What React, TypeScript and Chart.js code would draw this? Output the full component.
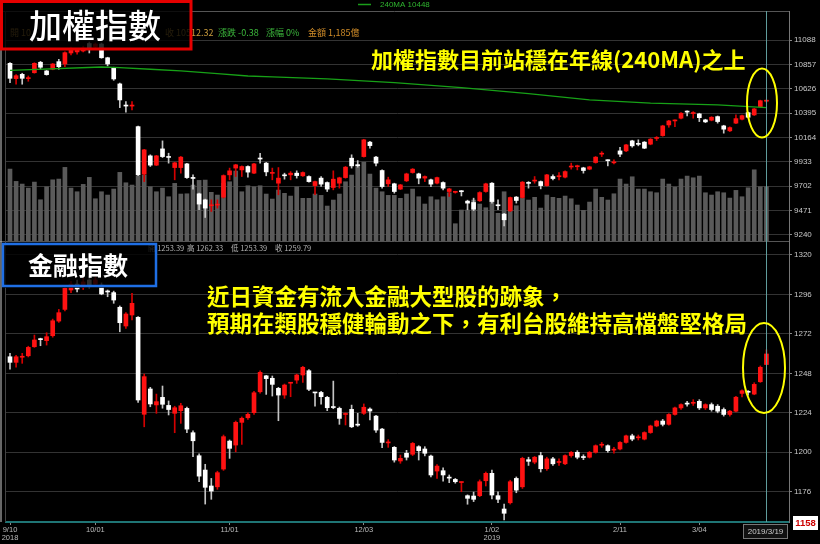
import React, { useEffect, useRef } from "react";
import { Chart, registerables } from "chart.js";
Chart.register(...registerables);

// ---------- 加權指數 (TAIEX) daily candles, 2018/9/10 .. 2019/3/19 ----------
const twOpen = [
  10867, 10722, 10763, 10722, 10778, 10877, 10795, 10811, 10883, 10861,
  10965, 10975, 10984, 11055, 11022, 11050, 10920, 10826, 10672, 10470,
  10462, 10267, 9817, 9990, 9902, 10056, 9980, 9879, 9879, 9914,
  9781, 9630, 9573, 9517, 9523, 9599, 9810, 9874, 9857, 9889,
  9826, 9965, 9921, 9824, 9731, 9805, 9810, 9826, 9801, 9794,
  9708, 9779, 9737, 9690, 9731, 9784, 9968, 9900, 9983, 10120,
  9978, 9851, 9725, 9725, 9675, 9753, 9832, 9819, 9779, 9763,
  9731, 9737, 9652, 9644, 9654, 9561, 9548, 9564, 9652, 9731,
  9521, 9438, 9469, 9599, 9595, 9733, 9751, 9746, 9708, 9794,
  9792, 9788, 9884, 9887, 9876, 9864, 9927, 10006, 9948, 9924,
  10037, 10037, 10132, 10103, 10120, 10101, 10155, 10182, 10283, 10321,
  10347, 10409, 10391, 10388, 10331, 10328, 10362, 10274, 10227, 10300,
  10337, 10400, 10378, 10457, 10508,
];
const twHigh = [
  10873, 10760, 10773, 10747, 10873, 10886, 10800, 10866, 10905, 10975,
  11022, 11010, 11030, 11069, 11060, 11060, 10925, 10830, 10680, 10504,
  10504, 10273, 10052, 10000, 9995, 10132, 10015, 9930, 9985, 9920,
  9810, 9638, 9580, 9573, 9573, 9810, 9874, 9910, 9895, 9895,
  9920, 10015, 9928, 9874, 9879, 9826, 9841, 9848, 9838, 9800,
  9752, 9794, 9743, 9848, 9788, 9890, 10000, 9945, 10147, 10128,
  9985, 9857, 9788, 9731, 9720, 9826, 9870, 9826, 9800, 9769,
  9790, 9743, 9683, 9655, 9662, 9570, 9589, 9650, 9731, 9737,
  9573, 9445, 9600, 9605, 9747, 9746, 9794, 9752, 9815, 9810,
  9832, 9848, 9921, 9902, 9882, 9892, 9984, 10030, 9952, 9952,
  10072, 10100, 10138, 10142, 10126, 10154, 10173, 10280, 10327, 10331,
  10400, 10416, 10409, 10394, 10337, 10362, 10368, 10280, 10265, 10378,
  10377, 10406, 10441, 10518, 10520,
];
const twLow = [
  10684, 10669, 10669, 10697, 10773, 10811, 10755, 10806, 10811, 10835,
  10946, 10955, 10975, 10965, 11012, 10915, 10842, 10706, 10447, 10404,
  10426, 9803, 9746, 9889, 9897, 9974, 9921, 9763, 9826, 9775,
  9675, 9479, 9406, 9463, 9495, 9590, 9763, 9794, 9794, 9788,
  9820, 9921, 9801, 9763, 9621, 9769, 9763, 9779, 9795, 9740,
  9621, 9700, 9652, 9668, 9684, 9778, 9874, 9883, 9978, 10063,
  9895, 9684, 9700, 9636, 9670, 9746, 9826, 9725, 9746, 9699,
  9725, 9668, 9605, 9636, 9610, 9479, 9471, 9558, 9645, 9542,
  9479, 9327, 9462, 9542, 9590, 9684, 9731, 9677, 9702, 9763,
  9763, 9782, 9864, 9857, 9826, 9858, 9921, 9983, 9895, 9914,
  9983, 10030, 10072, 10085, 10058, 10095, 10135, 10176, 10261, 10267,
  10340, 10368, 10347, 10315, 10305, 10322, 10300, 10205, 10220, 10294,
  10331, 10350, 10372, 10450, 10500,
];
const twClose = [
  10725, 10750, 10725, 10728, 10867, 10830, 10760, 10861, 10835, 10968,
  10994, 10998, 11012, 11012, 11050, 10920, 10861, 10719, 10520, 10462,
  10468, 9810, 10047, 9902, 9990, 9983, 9975, 9924, 9978, 9784,
  9776, 9533, 9495, 9522, 9528, 9803, 9848, 9905, 9889, 9836,
  9914, 9960, 9838, 9829, 9779, 9801, 9826, 9803, 9832, 9746,
  9746, 9722, 9675, 9769, 9782, 9883, 9895, 9897, 10142, 10087,
  9921, 9699, 9763, 9652, 9715, 9819, 9864, 9779, 9794, 9722,
  9784, 9684, 9677, 9648, 9650, 9542, 9485, 9642, 9725, 9557,
  9517, 9384, 9595, 9567, 9741, 9729, 9755, 9708, 9810, 9775,
  9796, 9841, 9888, 9891, 9851, 9886, 9978, 10011, 9944, 9928,
  10006, 10094, 10085, 10099, 10063, 10148, 10160, 10274, 10321, 10327,
  10394, 10405, 10396, 10352, 10312, 10356, 10315, 10243, 10258, 10343,
  10371, 10356, 10435, 10512.7, 10512.32,
];
// 成交金額 (億)
const twVolume = [
  1570, 1301, 1243, 1155, 1286, 900, 1184, 1336, 1352, 1607,
  1155, 1075, 1236, 1389, 922, 1075, 1003, 1134, 1498, 1271,
  1221, 1417, 1439, 1184, 1075, 1155, 966, 1258, 1025, 1031,
  1221, 1323, 1330, 1062, 1003, 1258, 1293, 1526, 1075, 1206,
  1184, 1206, 1025, 916, 1112, 1040, 981, 1184, 931, 931,
  1025, 996, 763, 894, 1025, 1293, 1439, 1657, 1722, 1461,
  1155, 1075, 996, 996, 931, 1025, 1134, 966, 807, 966,
  900, 966, 1053, 377, 676, 676, 894, 807, 726, 922,
  604, 1075, 894, 770, 931, 894, 953, 719, 1003, 953,
  931, 981, 922, 785, 669, 850, 1134, 953, 894, 1031,
  1352, 1243, 1402, 1134, 1134, 1075, 1053, 1352, 1243, 1177,
  1352, 1417, 1380, 1417, 1053, 1003, 1075, 1053, 937, 1105,
  966, 1162, 1554, 1184, 1185,
];
// 240MA read points: [trading-day index, value]
const maIndex = [0, 15, 18, 23, 28, 34, 39, 43, 52, 63, 74, 85, 95, 105, 116, 124];
const maValue = [10801, 10832, 10826, 10811, 10795, 10769, 10747, 10738, 10719, 10684, 10636, 10580, 10520, 10489, 10473, 10448];

// ---------- 金融指數 daily candles ----------
const finOpen = [
  1258.1, 1254.7, 1257.8, 1258.7, 1264.2, 1268.9, 1267.9, 1270.9, 1279.8, 1286.9,
  1298.7, 1302.3, 1300.5, 1304.8, 1302.3, 1301.7, 1297.8, 1297.1, 1288.2, 1276.8,
  1283.5, 1282.1, 1223.1, 1238.5, 1228.8, 1233.4, 1228.5, 1223.7, 1225.3, 1226.7,
  1211.9, 1197.9, 1189.2, 1179.5, 1179.0, 1189.8, 1206.8, 1204.4, 1218.2, 1221.0,
  1224.1, 1236.8, 1246.5, 1245.0, 1238.9, 1234.8, 1242.0, 1243.9, 1247.0, 1249.6,
  1236.3, 1236.4, 1233.4, 1227.4, 1226.7, 1223.0, 1226.1, 1216.7, 1223.7, 1226.3,
  1222.0, 1214.1, 1205.7, 1203.0, 1194.7, 1199.4, 1198.8, 1203.4, 1202.0, 1197.7,
  1188.6, 1188.8, 1184.6, 1183.5, 1181.6, 1173.6, 1173.4, 1173.6, 1182.7, 1187.2,
  1173.6, 1165.5, 1169.3, 1184.1, 1179.0, 1195.5, 1194.0, 1198.0, 1190.0, 1196.0,
  1193.8, 1193.0, 1198.0, 1200.0, 1197.2, 1197.0, 1200.0, 1204.3, 1204.0, 1201.3,
  1202.0, 1206.0, 1210.0, 1208.8, 1208.0, 1212.0, 1216.0, 1219.0, 1217.0, 1223.0,
  1227.0, 1229.7, 1229.8, 1231.0, 1227.0, 1229.0, 1228.0, 1226.0, 1223.0, 1225.0,
  1235.8, 1236.9, 1235.4, 1242.9, 1253.39,
];
const finHigh = [
  1260.2, 1259.0, 1260.2, 1264.5, 1271.3, 1269.4, 1272.7, 1281.0, 1286.9, 1300.5,
  1304.0, 1304.8, 1306.0, 1307.0, 1306.5, 1303.0, 1298.7, 1298.0, 1289.0, 1285.0,
  1296.7, 1282.5, 1247.6, 1239.5, 1235.4, 1240.3, 1231.2, 1228.0, 1229.8, 1227.5,
  1213.0, 1199.0, 1192.7, 1184.1, 1188.5, 1210.5, 1207.5, 1219.0, 1221.5, 1224.0,
  1237.0, 1249.5, 1246.8, 1246.4, 1239.5, 1241.5, 1242.5, 1247.5, 1252.3, 1250.3,
  1236.4, 1237.0, 1234.0, 1243.3, 1227.5, 1224.0, 1228.7, 1223.7, 1229.4, 1227.0,
  1222.5, 1214.5, 1207.7, 1203.5, 1198.3, 1201.2, 1206.0, 1204.0, 1203.4, 1198.3,
  1192.5, 1190.5, 1186.2, 1184.1, 1182.0, 1174.1, 1175.8, 1183.2, 1188.0, 1189.2,
  1176.0, 1168.5, 1183.0, 1185.0, 1197.0, 1197.0, 1197.5, 1200.0, 1197.0, 1197.0,
  1196.0, 1198.5, 1200.5, 1201.0, 1198.5, 1200.5, 1204.5, 1206.0, 1204.5, 1203.0,
  1206.5, 1210.5, 1211.0, 1210.5, 1212.5, 1216.5, 1219.5, 1220.0, 1223.5, 1227.5,
  1229.5, 1231.0, 1232.0, 1232.0, 1229.5, 1230.0, 1229.0, 1227.0, 1225.5, 1234.0,
  1238.0, 1237.5, 1242.3, 1252.5, 1262.33,
];
const finLow = [
  1250.5, 1251.7, 1254.1, 1258.0, 1263.8, 1264.8, 1265.2, 1270.0, 1279.0, 1286.0,
  1297.0, 1297.5, 1299.0, 1300.0, 1301.0, 1295.8, 1294.6, 1290.6, 1273.3, 1275.4,
  1280.5, 1230.4, 1215.5, 1227.7, 1223.7, 1226.8, 1222.7, 1211.9, 1217.6, 1211.9,
  1197.3, 1182.1, 1168.5, 1171.4, 1177.5, 1189.0, 1196.3, 1200.3, 1204.8, 1220.0,
  1223.0, 1236.0, 1235.2, 1234.2, 1219.2, 1232.8, 1233.8, 1241.9, 1242.5, 1237.5,
  1228.1, 1229.3, 1225.3, 1226.5, 1217.0, 1216.6, 1215.0, 1215.8, 1223.0, 1219.7,
  1212.1, 1202.8, 1203.0, 1194.0, 1193.3, 1195.3, 1198.0, 1195.3, 1197.8, 1185.0,
  1184.1, 1182.5, 1181.5, 1181.2, 1176.0, 1168.4, 1170.0, 1173.0, 1179.5, 1171.6,
  1169.3, 1158.8, 1168.5, 1175.4, 1178.0, 1192.0, 1193.0, 1188.0, 1189.0, 1192.0,
  1192.0, 1192.5, 1197.0, 1196.0, 1195.5, 1196.5, 1199.5, 1203.0, 1200.0, 1199.5,
  1201.5, 1205.5, 1207.0, 1207.5, 1207.5, 1211.5, 1215.5, 1216.0, 1216.5, 1222.5,
  1226.0, 1228.0, 1228.5, 1226.0, 1226.0, 1225.0, 1224.0, 1222.0, 1222.0, 1224.5,
  1233.6, 1234.8, 1235.0, 1242.5, 1253.39,
];
const finClose = [
  1254.7, 1258.1, 1258.3, 1263.8, 1268.3, 1268.5, 1270.3, 1280.0, 1284.9, 1299.7,
  1302.3, 1299.3, 1303.6, 1301.7, 1304.8, 1296.3, 1297.5, 1292.6, 1278.8, 1284.1,
  1290.6, 1231.8, 1246.0, 1229.4, 1230.8, 1229.2, 1226.0, 1227.1, 1228.3, 1214.1,
  1207.0, 1185.5, 1178.7, 1176.4, 1187.6, 1209.5, 1202.4, 1218.2, 1220.7, 1223.1,
  1236.2, 1248.6, 1244.8, 1241.3, 1234.8, 1240.9, 1242.3, 1247.0, 1251.7, 1238.3,
  1236.1, 1233.8, 1227.1, 1227.2, 1220.6, 1223.4, 1215.5, 1216.5, 1227.4, 1225.1,
  1213.5, 1206.0, 1206.3, 1195.3, 1196.3, 1197.0, 1205.4, 1201.0, 1199.4, 1186.2,
  1191.6, 1186.2, 1184.3, 1182.1, 1181.8, 1172.0, 1171.4, 1182.1, 1187.2, 1174.0,
  1171.4, 1162.9, 1182.1, 1177.0, 1196.3, 1194.5, 1197.0, 1190.0, 1196.0, 1193.0,
  1194.2, 1198.0, 1200.0, 1197.0, 1196.8, 1200.0, 1204.0, 1204.7, 1201.0, 1201.7,
  1206.0, 1210.0, 1208.0, 1209.2, 1212.0, 1216.0, 1219.0, 1217.0, 1223.0, 1227.0,
  1229.0, 1229.3, 1230.2, 1227.0, 1229.0, 1226.0, 1225.0, 1223.0, 1225.0, 1233.5,
  1237.4, 1236.5, 1241.3, 1251.7, 1259.79,
];

// ---------- axes ----------
const xTickIndex = [0, 14, 36, 58, 79, 100, 113];
const xTickLabels = [["9/10", "2018"], ["10/01"], ["11/01"], ["12/03"], ["1/02", "2019"], ["2/11"], ["3/04"]];
const twTicks = [9240, 9471, 9702, 9933, 10164, 10395, 10626, 10857, 11088];
const finTicks = [1176, 1200, 1224, 1248, 1272, 1296, 1320];
const lastIndex = 124;

const CJK = '"Noto Sans CJK TC", "Noto Sans CJK SC", sans-serif';

function candleSets(open: number[], high: number[], low: number[], close: number[], axis: string, order: number) {
  const up = close.map((c, i) => c >= open[i]);
  return [
    {
      type: "bar",
      yAxisID: axis,
      data: open.map((_, i) => ({ x: i, y: [low[i], high[i]] })),
      backgroundColor: up.map((u) => (u ? "#d40000" : "#c4c4c4")),
      barThickness: 1,
      grouped: false,
      minBarLength: 1,
      borderWidth: 0,
      order: order + 1,
    },
    {
      type: "bar",
      yAxisID: axis,
      data: open.map((o, i) => ({ x: i, y: [Math.min(o, close[i]), Math.max(o, close[i])] })),
      backgroundColor: up.map((u) => (u ? "#ff1212" : "#ffffff")),
      barThickness: 4,
      grouped: false,
      minBarLength: 1,
      borderWidth: 0,
      order,
    },
  ];
}

function yAxis(ticks: number[], min: number, max: number, weight: number) {
  return {
    type: "linear",
    position: "right",
    stack: "panels",
    stackWeight: weight,
    min,
    max,
    afterBuildTicks: (s: any) => {
      s.ticks = ticks.map((v) => ({ value: v }));
    },
    afterFit: (s: any) => {
      s.width = 31;
    },
    ticks: { color: "#c8c8c8", font: { size: 8 }, padding: 2, callback: (v: any) => String(v) },
    grid: { color: "#333333", tickLength: 3, tickColor: "#888888" },
    border: { display: true, color: "#777777" },
  };
}

function text(c: CanvasRenderingContext2D, s: string, x: number, y: number, font: string, color: string, align: CanvasTextAlign = "left") {
  c.font = font;
  c.fillStyle = color;
  c.textAlign = align;
  c.textBaseline = "middle";
  c.fillText(s, x, y);
}

function hline(c: CanvasRenderingContext2D, x1: number, x2: number, y: number, color: string, w = 1) {
  c.strokeStyle = color;
  c.lineWidth = w;
  c.beginPath();
  c.moveTo(x1, y);
  c.lineTo(x2, y);
  c.stroke();
}
function vline(c: CanvasRenderingContext2D, x: number, y1: number, y2: number, color: string, w = 1) {
  c.strokeStyle = color;
  c.lineWidth = w;
  c.beginPath();
  c.moveTo(x, y1);
  c.lineTo(x, y2);
  c.stroke();
}

const overlayPlugin = {
  id: "overlay",
  beforeDraw(chart: any) {
    const c = chart.ctx as CanvasRenderingContext2D;
    c.save();
    c.fillStyle = "#000";
    c.fillRect(0, 0, chart.width, chart.height);
    c.restore();
  },
  afterDraw(chart: any) {
    const c = chart.ctx as CanvasRenderingContext2D;
    const area = chart.chartArea;
    const sep = chart.scales.yTop.bottom;
    c.save();
    // frame
    hline(c, 0, area.right, area.top + 0.5, "#555");
    hline(c, 0, area.right, Math.round(sep) + 0.5, "#555");
    vline(c, 1, area.top, area.bottom, "#cfcfcf");
    vline(c, 5.5, area.top, area.bottom, "#444");
    // crosshair on last day
    const cx = Math.round(chart.scales.x.getPixelForValue(lastIndex)) + 0.5;
    vline(c, cx, area.top, area.bottom, "#5f9c9c");

    // legend of 240MA
    hline(c, 358, 371, 4.5, "#1a9e1a", 1.5);
    text(c, "240MA 10448", 380, 5, '8px "Liberation Sans", sans-serif', "#2fb42f");

    // top info row
    const f1 = '9px ' + CJK;
    text(c, "開 10", 10, 33, f1, "#c89b3c");
    text(c, "收 10512.32", 165, 33, f1, "#c89b3c");
    text(c, "漲跌 -0.38", 218, 33, f1, "#3cb83c");
    text(c, "漲幅 0%", 266, 33, f1, "#3cb83c");
    text(c, "金額 1,185億", 308, 33, f1, "#d08c28");

    // bottom info row
    const f2 = '7.5px ' + CJK;
    text(c, "開 1253.39", 148, 248, f2, "#b0b0b0");
    text(c, "高 1262.33", 187, 248, f2, "#b0b0b0");
    text(c, "低 1253.39", 231, 248, f2, "#b0b0b0");
    text(c, "收 1259.79", 275, 248, f2, "#b0b0b0");

    // title box 1
    c.fillStyle = "rgba(0,0,0,0.82)";
    c.fillRect(0, 0, 192, 50);
    c.strokeStyle = "#e60000";
    c.lineWidth = 3;
    c.strokeRect(1.5, 1.5, 189.5, 47.5);
    text(c, "加權指數", 95, 25, "500 33px " + CJK, "#ffffff", "center");

    // title box 2
    c.fillStyle = "rgba(0,0,0,0.82)";
    c.fillRect(2, 243, 155, 45);
    c.strokeStyle = "#1f6fe5";
    c.lineWidth = 2.5;
    c.strokeRect(3, 244, 153, 42);
    text(c, "金融指數", 78, 265, "bold 25px " + CJK, "#ffffff", "center");

    // yellow annotations
    text(c, "加權指數目前站穩在年線(240MA)之上", 371, 60, "bold 22px " + CJK, "#ffff00");
    const fy = "bold 22.5px " + CJK;
    text(c, "近日資金有流入金融大型股的跡象，", 207, 296, fy, "#ffff00");
    text(c, "預期在類股穩健輪動之下，有利台股維持高檔盤堅格局", 207, 323, fy, "#ffff00");

    c.strokeStyle = "#ffff00";
    c.lineWidth = 2;
    c.beginPath();
    c.ellipse(762, 103, 15, 34.5, 0, 0, Math.PI * 2);
    c.stroke();
    c.beginPath();
    c.ellipse(764, 368, 21, 45, 0, 0, Math.PI * 2);
    c.stroke();

    // date box
    c.fillStyle = "#111";
    c.fillRect(743, 524, 44, 14);
    c.strokeStyle = "#777";
    c.lineWidth = 1;
    c.strokeRect(743.5, 524.5, 44, 14);
    text(c, "2019/3/19", 765.5, 531.5, '8px "Liberation Sans", sans-serif', "#cccccc", "center");

    // current value box
    c.fillStyle = "#ffffff";
    c.fillRect(793, 516, 25, 14);
    text(c, "1158", 805.5, 523.5, 'bold 9.5px "Liberation Sans", sans-serif', "#cc0000", "center");
    c.restore();
  },
};

export default function App() {
  const ref = useRef<HTMLCanvasElement>(null);
  useEffect(() => {
    document.body.style.margin = "0";
    document.body.style.background = "#000";
    const datasets: any[] = [
      {
        type: "line",
        yAxisID: "yTop",
        data: maIndex.map((x, k) => ({ x, y: maValue[k] })),
        borderColor: "#17a117",
        borderWidth: 1.3,
        pointRadius: 0,
        tension: 0,
        order: 0,
      },
      ...candleSets(twOpen, twHigh, twLow, twClose, "yTop", 2),
      ...candleSets(finOpen, finHigh, finLow, finClose, "yBot", 2),
      {
        type: "bar",
        yAxisID: "yVol",
        data: twVolume.map((v, i) => ({ x: i, y: v })),
        backgroundColor: "#5a5a5a",
        barThickness: 4,
        grouped: false,
        borderWidth: 0,
        order: 10,
      },
    ];
    const chart = new Chart(ref.current as HTMLCanvasElement, {
      type: "bar",
      data: { datasets },
      options: {
        responsive: false,
        animation: false,
        events: [],
        layout: { padding: { left: 6, top: 11, right: 0, bottom: 0 }, autoPadding: false },
        plugins: { legend: { display: false }, tooltip: { enabled: false } },
        font: { family: '"Liberation Sans", Arial, sans-serif' },
        scales: {
          x: {
            type: "linear",
            offset: false,
            min: -0.656,
            max: 127.7,
            afterBuildTicks: (s: any) => {
              s.ticks = xTickIndex.map((v) => ({ value: v }));
            },
            afterFit: (s: any) => {
              s.height = 22;
            },
            ticks: {
              autoSkip: false,
              maxRotation: 0,
              color: "#bbbbbb",
              font: { size: 7.5, lineHeight: 1.1 },
              padding: 1,
              callback: (v: any) => {
                const k = xTickIndex.indexOf(Number(v));
                return k >= 0 ? xTickLabels[k] : "";
              },
            },
            grid: { drawOnChartArea: false, offset: false, tickLength: 3, tickColor: "#888888" },
            border: { display: true, color: "#1f7575", width: 2 },
          },
          yTop: yAxis(twTicks, 9183, 11363, 230),
          yBot: yAxis(finTicks, 1157.6, 1328.5, 281),
          yVol: { type: "linear", display: false, min: -6133, max: 5020 },
        } as any,
      } as any,
      plugins: [overlayPlugin],
    } as any);
    return () => chart.destroy();
  }, []);
  return (
    <div style={{ width: 820, height: 544, background: "#000" }}>
      <canvas ref={ref} width={820} height={544} style={{ display: "block", width: 820, height: 544 }} />
    </div>
  );
}
